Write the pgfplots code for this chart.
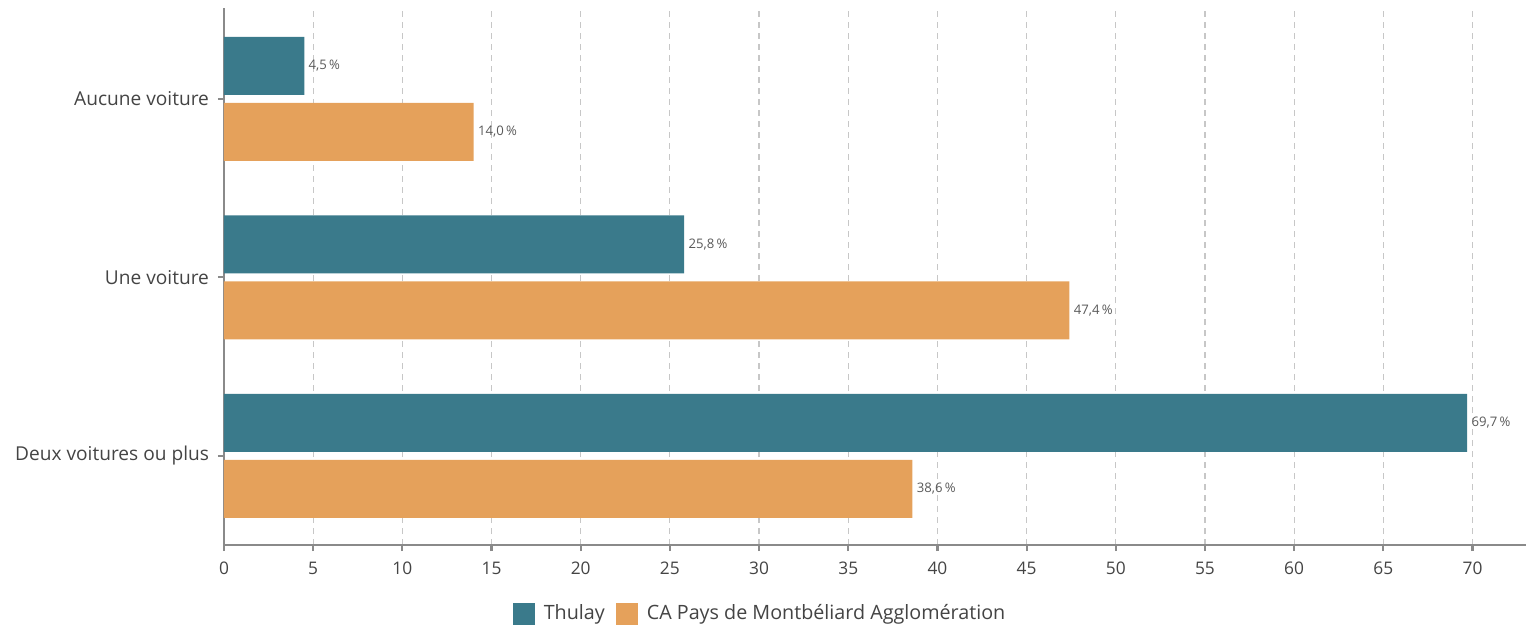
\documentclass[border=0pt]{standalone}
\usepackage{pgfplots}
\pgfplotsset{compat=1.18}
\usepackage{fontspec}
\setmainfont{Open Sans}
\definecolor{thulay}{HTML}{3A7A8B}
\definecolor{capm}{HTML}{E5A15B}
\definecolor{axgray}{HTML}{8A8A8A}
\definecolor{txt}{HTML}{444444}
\begin{document}
\begin{tikzpicture}
\begin{axis}[
  name=ax,
  scale only axis,
  width=651bp, height=268.5bp,
  xmin=0, xmax=73, ymin=-0.5, ymax=2.51,
  xbar, bar width=29bp,
  xtick={0,5,...,70},
  ytick={0,1,2},
  yticklabels={Deux voitures ou plus, Une voiture, Aucune voiture},
  axis x line*=bottom, axis y line*=left,
  axis line style={axgray, line width=1.1bp},
  tick style={axgray, line width=1.1bp},
  tick align=outside, major tick length=3bp,
  xmajorgrids,
  major grid style={draw=black!22, dash pattern=on 3bp off 2.5bp, line width=0.6bp},
  /pgf/number format/assume math mode=true,
  xticklabel style={font=\fontsize{8.7}{10}\selectfont, text=txt, yshift=-2bp},
  yticklabel style={font=\fontsize{9.6}{11}\selectfont, text=txt, xshift=-1bp},
  nodes near coords={\pgfmathprintnumber[fixed,fixed zerofill,precision=1,use comma]{\pgfplotspointmeta}\,\%},
  nodes near coords style={font=\fontsize{6.6}{8}\selectfont, text=black!65, inner sep=2bp},
  legend style={at={(0.4144,-0.128)}, anchor=center, draw=none, legend columns=2,
    font=\fontsize{9.9}{11}\selectfont, text=txt,
    nodes={inner xsep=4.5bp},
    /tikz/every even column/.append style={column sep=1bp}},
  legend image code/.code={\fill[#1] (0bp,-5.5bp) rectangle (11bp,5.5bp);},
]
\addplot[fill=thulay, draw=none, bar shift=16.5bp] coordinates {(69.7,0) (25.8,1) (4.5,2)};
\addplot[fill=capm, draw=none, bar shift=-16.5bp] coordinates {(38.6,0) (47.4,1) (14.0,2)};
\legend{Thulay, CA Pays de Montbéliard Agglomération}
\end{axis}
\pgfresetboundingbox
\path ([xshift=-112bp,yshift=-41.5bp]ax.south west) rectangle ([xshift=1bp,yshift=4bp]ax.north east);
\end{tikzpicture}
\end{document}
